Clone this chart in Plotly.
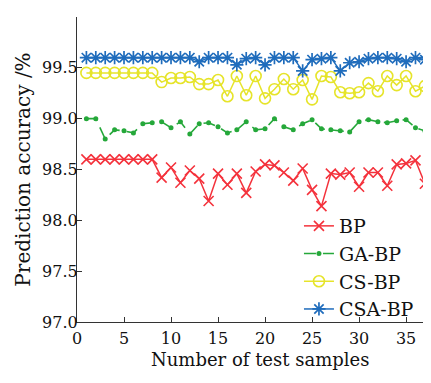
import plotly.graph_objects as go

samples = list(range(1, 39))

bp = [98.60, 98.60, 98.60, 98.60, 98.60, 98.60, 98.60, 98.60, 98.42, 98.52,
      98.37, 98.49, 98.41, 98.19, 98.46, 98.35, 98.46, 98.27, 98.48, 98.55,
      98.54, 98.47, 98.39, 98.51, 98.30, 98.14, 98.46, 98.45, 98.47, 98.33,
      98.47, 98.47, 98.34, 98.55, 98.56, 98.59, 98.36, 98.55]

ga_bp = [99.00, 99.00, 98.80, 98.89, 98.88, 98.86, 98.95, 98.96, 98.97, 98.91,
         98.97, 98.85, 98.95, 98.96, 98.92, 98.86, 98.89, 98.97, 98.89, 98.90,
         99.00, 98.92, 98.89, 98.95, 98.99, 98.90, 98.89, 98.88, 98.87, 98.97,
         98.99, 98.97, 98.96, 98.98, 98.99, 98.91, 98.88, 98.87]

cs_bp = [99.45, 99.45, 99.45, 99.45, 99.45, 99.45, 99.45, 99.45, 99.36, 99.40,
         99.40, 99.41, 99.34, 99.34, 99.38, 99.22, 99.42, 99.23, 99.42, 99.20,
         99.29, 99.39, 99.29, 99.38, 99.19, 99.42, 99.41, 99.26, 99.25, 99.26,
         99.35, 99.27, 99.42, 99.33, 99.42, 99.27, 99.32, 99.40]

csa_bp = [99.60, 99.60, 99.60, 99.60, 99.60, 99.60, 99.60, 99.60, 99.60, 99.60,
          99.60, 99.60, 99.56, 99.60, 99.60, 99.60, 99.53, 99.59, 99.60, 99.53,
          99.60, 99.60, 99.60, 99.47, 99.58, 99.59, 99.60, 99.47, 99.55, 99.56,
          99.59, 99.60, 99.60, 99.59, 99.56, 99.60, 99.58, 99.60]

y_ticks = [97.0, 97.5, 98.0, 98.5, 99.0, 99.5, 100.0]
x_ticks = [0, 5, 10, 15, 20, 25, 30, 35]

RED = "#f4323c"
GREEN = "#25a83a"
YELLOW = "#e6e42a"
BLUE = "#1f6cbc"
FONT = "DejaVu Serif"

fig = go.Figure()
fig.add_trace(go.Scatter(
    x=samples, y=bp, name="BP", mode="lines+markers",
    line=dict(color=RED, width=1.5),
    marker=dict(symbol="x-thin", size=10, color=RED, line=dict(color=RED, width=1.6)),
))
fig.add_trace(go.Scatter(
    x=samples, y=ga_bp, name="GA-BP", mode="lines+markers",
    line=dict(color=GREEN, width=1.6, dash="12px,7px"),
    marker=dict(symbol="circle", size=5, color=GREEN),
))
fig.add_trace(go.Scatter(
    x=samples, y=cs_bp, name="CS-BP", mode="lines+markers",
    line=dict(color=YELLOW, width=1.5),
    marker=dict(symbol="circle-open", size=11, color=YELLOW, line=dict(color=YELLOW, width=1.6)),
))
fig.add_trace(go.Scatter(
    x=samples, y=csa_bp, name="CSA-BP", mode="lines+markers",
    line=dict(color=BLUE, width=1.5),
    marker=dict(symbol="asterisk", size=11, color=BLUE, line=dict(color=BLUE, width=1.7)),
))

# page body has an 8px default margin, so the figure is 8px smaller and offset
fig.update_layout(
    width=423, height=375,
    margin=dict(l=69, r=0, t=9, b=61, autoexpand=False),
    paper_bgcolor="white", plot_bgcolor="white",
    font=dict(family=FONT, color="#111111", size=16),
    showlegend=True,
    legend=dict(
        x=0.627, y=0.377, xanchor="left", yanchor="top",
        bgcolor="rgba(0,0,0,0)", borderwidth=0,
        font=dict(family=FONT, size=19, color="#111111"),
        tracegroupgap=0,
    ),
    xaxis=dict(
        range=[0, 37.65], tickvals=x_ticks, automargin=False,
        showline=True, linecolor="#333333", linewidth=1.2,
        ticks="inside", ticklen=5, tickcolor="#333333",
        showgrid=False, zeroline=False,
        tickfont=dict(family=FONT, size=16),
        ticklabelstandoff=2,
    ),
    yaxis=dict(
        range=[97, 100], tickvals=y_ticks, tickformat=".1f", automargin=False,
        showline=True, linecolor="#333333", linewidth=1.2,
        ticks="inside", ticklen=5, tickcolor="#333333",
        showgrid=False, zeroline=False,
        tickfont=dict(family=FONT, size=16),
        ticklabelstandoff=-5,
    ),
    annotations=[
        dict(text="Number of test samples", xref="paper", yref="paper",
             x=0.518, y=-0.122, xanchor="center", yanchor="middle",
             showarrow=False, font=dict(family=FONT, size=18)),
        dict(text="Prediction accuracy /%", xref="paper", yref="paper",
             x=-0.155, y=0.5, xanchor="center", yanchor="middle", textangle=-90,
             showarrow=False, font=dict(family=FONT, size=20)),
    ],
)

fig.write_html("out.html")
